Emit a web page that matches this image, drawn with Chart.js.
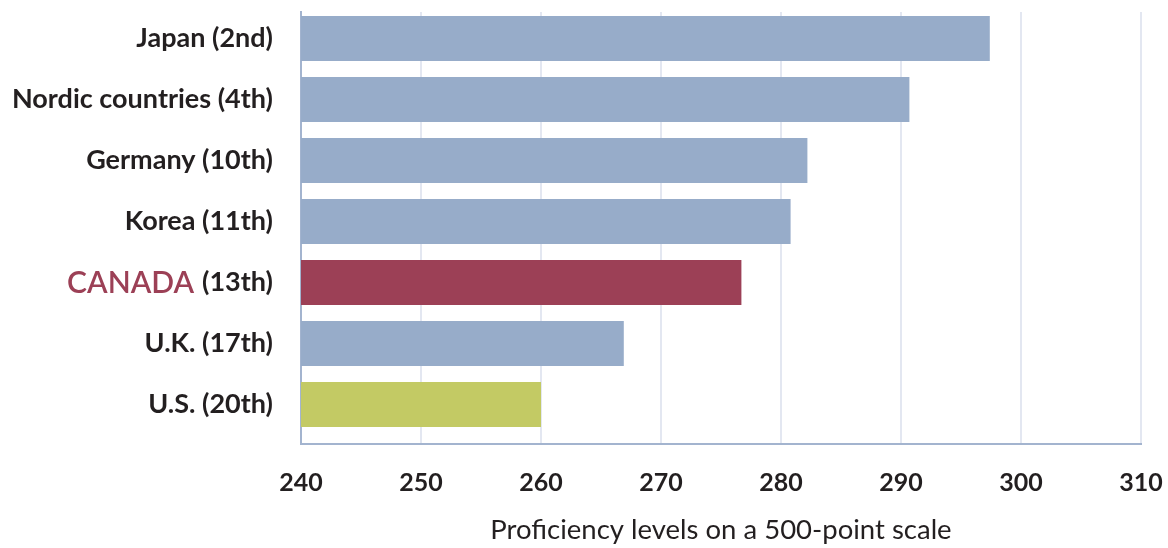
<!DOCTYPE html>
<html>
<head>
<meta charset="utf-8">
<script src="https://cdn.jsdelivr.net/npm/chart.js@4/dist/chart.umd.min.js"></script>
<style>
  html, body { margin: 0; padding: 0; background: #ffffff; }
  #wrap { width: 1168px; height: 548px; }
</style>
</head>
<body>
<div id="wrap"><canvas id="chart" width="1168" height="548"></canvas></div>
<script>
// Adult literacy proficiency, mean score and rank
const countries = ["Japan", "Nordic countries", "Germany", "Korea", "CANADA", "U.K.", "U.S."];
const ranks = ["(2nd)", "(4th)", "(10th)", "(11th)", "(13th)", "(17th)", "(20th)"];
const scores = [297.4, 290.7, 282.2, 280.8, 276.7, 266.9, 260.0];
const xTicks = [240, 250, 260, 270, 280, 290, 300, 310];

const BLUE = "#97acc9";
const RED = "#9c4056";
const GREEN = "#c3ca64";
const INK = "#231f20";
const highlight = "CANADA";
const barColors = countries.map(c => c === highlight ? RED : (c === "U.S." ? GREEN : BLUE));

// Row axis runs a little past the first and last row, more room at the bottom
const Y_MIN = -0.434;
const Y_MAX = 6.648;

const LABEL_FONT = { family: "Lato", size: 27, weight: "bold" };
const HIGHLIGHT_FONT = "600 30px Lato";

// Draws the highlighted country name in its own colour, left of its rank
const highlightLabel = {
  id: "highlightLabel",
  afterDraw(chart) {
    const y = chart.scales.y;
    const idx = countries.indexOf(highlight);
    const ctx = chart.ctx;
    const py = y.getPixelForValue(idx);
    ctx.save();
    ctx.font = `${LABEL_FONT.weight} ${LABEL_FONT.size}px ${LABEL_FONT.family}`;
    const rankW = ctx.measureText(ranks[idx]).width;
    const right = y.right - y.options.ticks.padding - rankW - 8;
    ctx.font = HIGHLIGHT_FONT;
    ctx.fillStyle = RED;
    ctx.textAlign = "right";
    ctx.textBaseline = "middle";
    ctx.fillText(highlight, right, py + 1);
    ctx.restore();
  }
};

new Chart(document.getElementById("chart"), {
  type: "bar",
  data: {
    datasets: [{
      data: scores.map((v, i) => ({ x: v, y: i })),
      backgroundColor: barColors,
      borderWidth: 0,
      categoryPercentage: 0.74,
      barPercentage: 1.0
    }]
  },
  plugins: [highlightLabel],
  options: {
    indexAxis: "y",
    responsive: false,
    animation: false,
    layout: { padding: { top: 12, right: 27, left: 0, bottom: 0 } },
    plugins: { legend: { display: false }, tooltip: { enabled: false } },
    scales: {
      x: {
        type: "linear",
        min: xTicks[0],
        max: xTicks[xTicks.length - 1],
        afterBuildTicks: s => { s.ticks = xTicks.map(v => ({ value: v })); },
        afterFit: s => { s.height = 104; s.paddingLeft = 0; s.paddingRight = 0; },
        grid: { color: "#e3e7f1", lineWidth: 2, drawTicks: false },
        border: { color: "#a3b4cf", width: 2 },
        ticks: {
          color: INK,
          padding: 24,
          font: { family: "Lato", size: 25, weight: "bold" }
        },
        title: {
          display: true,
          text: "Proficiency levels on a 500-point scale",
          color: INK,
          font: { family: "Lato", size: 27.5, weight: "normal" },
          padding: { top: 0, bottom: 1 }
        }
      },
      y: {
        type: "linear",
        reverse: true,
        offset: false,
        bounds: "data",
        min: Y_MIN,
        max: Y_MAX,
        afterBuildTicks: s => {
          s.ticks = countries.map((_, i) => ({ value: i }));
          s.min = Y_MIN;
          s.max = Y_MAX;
        },
        afterFit: s => { s.width = 301; s.paddingTop = 0; s.paddingBottom = 0; },
        grid: { display: false, drawTicks: false, offset: false },
        border: { color: "#a3b4cf", width: 2 },
        ticks: {
          padding: 28,
          color: INK,
          font: LABEL_FONT,
          callback: v => {
            const i = Math.round(v);
            return countries[i] === highlight ? ranks[i] : `${countries[i]} ${ranks[i]}`;
          }
        }
      }
    }
  }
});
</script>
</body>
</html>
